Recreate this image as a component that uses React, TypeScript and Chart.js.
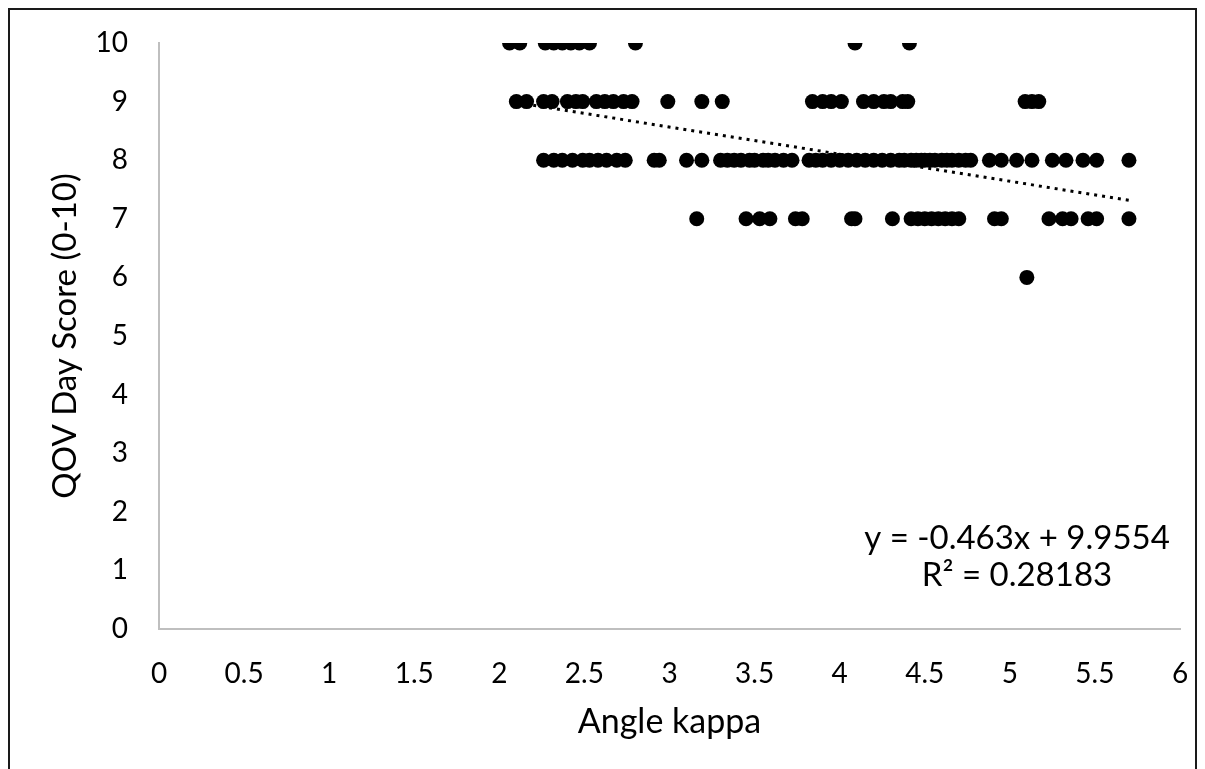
import React, { useEffect, useRef } from "react";
import { Chart, registerables } from "chart.js";

Chart.register(...registerables);

// Angle kappa values of the subjects, grouped by their QOV day score
const score10X = [2.06, 2.12, 2.27, 2.32, 2.37, 2.42, 2.47, 2.53, 2.8, 4.09, 4.41];
const score9X = [
  2.1, 2.16, 2.26, 2.31, 2.4, 2.45, 2.49, 2.57, 2.62, 2.67, 2.73, 2.78, 2.99, 3.19, 3.31,
  3.84, 3.9, 3.95, 4.01, 4.14, 4.2, 4.26, 4.3, 4.37, 4.4, 5.09, 5.13, 5.17,
];
const score8X = [
  2.26, 2.32, 2.37, 2.43, 2.49, 2.53, 2.58, 2.63, 2.69, 2.74, 2.91, 2.94, 3.1, 3.19, 3.3,
  3.34, 3.38, 3.42, 3.47, 3.5, 3.55, 3.58, 3.62, 3.67, 3.72, 3.82, 3.86, 3.9, 3.95, 4.0,
  4.05, 4.1, 4.15, 4.2, 4.25, 4.3, 4.35, 4.38, 4.42, 4.45, 4.48, 4.5, 4.53, 4.56, 4.6,
  4.63, 4.66, 4.7, 4.74, 4.77, 4.88, 4.95, 5.04, 5.13, 5.25, 5.33, 5.43, 5.51, 5.7,
];
const score7X = [
  3.16, 3.45, 3.53, 3.59, 3.74, 3.78, 4.07, 4.09, 4.31, 4.42, 4.46, 4.5, 4.54, 4.58, 4.62,
  4.66, 4.7, 4.91, 4.95, 5.23, 5.31, 5.36, 5.46, 5.51, 5.7,
];
const score6X = [5.1];

// Linear trendline reported on the chart
const trendSlope = -0.463;
const trendIntercept = 9.9554;
const equationLines = ["y = -0.463x + 9.9554", "R\u00B2 = 0.28183"];

const xTickValues = [0, 0.5, 1, 1.5, 2, 2.5, 3, 3.5, 4, 4.5, 5, 5.5, 6];
const yTickValues = [0, 1, 2, 3, 4, 5, 6, 7, 8, 9, 10];
const xAxisTitle = "Angle kappa";
const yAxisTitle = "QOV Day Score (0-10)";

const FONT = "Lato, 'Open Sans', sans-serif";

export default function App() {
  const ref = useRef<HTMLCanvasElement | null>(null);

  useEffect(() => {
    if (!ref.current) return;
    const rows: [number, number[]][] = [
      [10, score10X],
      [9, score9X],
      [8, score8X],
      [7, score7X],
      [6, score6X],
    ];
    const points = rows.flatMap(([y, xs]) => xs.map((x) => ({ x, y })));
    const allX = points.map((p) => p.x);
    const minX = Math.min(...allX);
    const maxX = Math.max(...allX);
    const trend = [
      { x: minX, y: trendSlope * minX + trendIntercept },
      { x: maxX, y: trendSlope * maxX + trendIntercept },
    ];

    const equationPlugin = {
      id: "equationText",
      afterDatasetsDraw(chart: any) {
        const { ctx, chartArea } = chart;
        ctx.save();
        ctx.font = `33px ${FONT}`;
        ctx.fillStyle = "#000";
        ctx.textAlign = "center";
        ctx.textBaseline = "alphabetic";
        const cx = chartArea.right - 163;
        ctx.fillText(equationLines[0], cx, chartArea.bottom - 80);
        ctx.fillText(equationLines[1], cx, chartArea.bottom - 43);
        ctx.restore();
      },
    };

    const axisColor = "#bfbfbf";
    const chart = new Chart(ref.current, {
      type: "scatter",
      data: {
        datasets: [
          {
            data: points,
            backgroundColor: "#000",
            borderColor: "#000",
            borderWidth: 0,
            pointRadius: 7.5,
            pointHoverRadius: 7.5,
          },
          {
            data: trend,
            showLine: true,
            borderColor: "#000",
            borderWidth: 3,
            borderDash: [3, 5],
            pointRadius: 0,
            pointHoverRadius: 0,
            fill: false,
          },
        ],
      },
      options: {
        animation: false,
        responsive: false,
        devicePixelRatio: 1,
        layout: { padding: { top: 43, right: 25, left: 0, bottom: 0 } },
        plugins: { legend: { display: false }, tooltip: { enabled: false } },
        events: [],
        scales: {
          x: {
            type: "linear",
            position: "bottom",
            min: 0,
            max: 6,
            grid: { display: false, drawTicks: false },
            border: { display: true, color: axisColor, width: 2 },
            afterBuildTicks: (s: any) => {
              s.ticks = xTickValues.map((v) => ({ value: v }));
            },
            afterFit: (s: any) => {
              s.height = 140;
              s.paddingLeft = 0;
              s.paddingRight = 0;
            },
            ticks: {
              color: "#000",
              font: { family: FONT, size: 28 },
              padding: 28,
              maxRotation: 0,
              autoSkip: false,
              callback: (v: any) => String(v),
            },
            title: {
              display: true,
              text: xAxisTitle,
              color: "#000",
              font: { family: FONT, size: 34 },
              padding: { top: 0, bottom: 27 },
            },
          },
          y: {
            type: "linear",
            min: 0,
            max: 10,
            grid: { display: false, drawTicks: false },
            border: { display: true, color: axisColor, width: 2 },
            afterBuildTicks: (s: any) => {
              s.ticks = yTickValues.map((v) => ({ value: v }));
            },
            afterFit: (s: any) => {
              s.width = 159;
              s.paddingTop = 0;
              s.paddingBottom = 0;
            },
            ticks: {
              color: "#000",
              font: { family: FONT, size: 28 },
              padding: 31,
              autoSkip: false,
              callback: (v: any) => String(v),
            },
            title: {
              display: true,
              text: yAxisTitle,
              color: "#000",
              font: { family: FONT, size: 33 },
              padding: { top: 46, bottom: 0 },
            },
          },
        },
      },
      plugins: [equationPlugin],
    });
    return () => chart.destroy();
  }, []);

  return (
    <div
      style={{
        position: "fixed",
        left: 0,
        top: 0,
        width: 1205,
        height: 769,
        overflow: "hidden",
        background: "#fff",
      }}
    >
      <div
        style={{
          position: "absolute",
          left: 8,
          top: 8,
          width: 1189,
          height: 800,
          boxSizing: "border-box",
          border: "2px solid #1a1a1a",
        }}
      />
      <canvas
        ref={ref}
        width={1205}
        height={769}
        style={{ position: "absolute", left: 0, top: 0, width: 1205, height: 769 }}
      />
    </div>
  );
}
